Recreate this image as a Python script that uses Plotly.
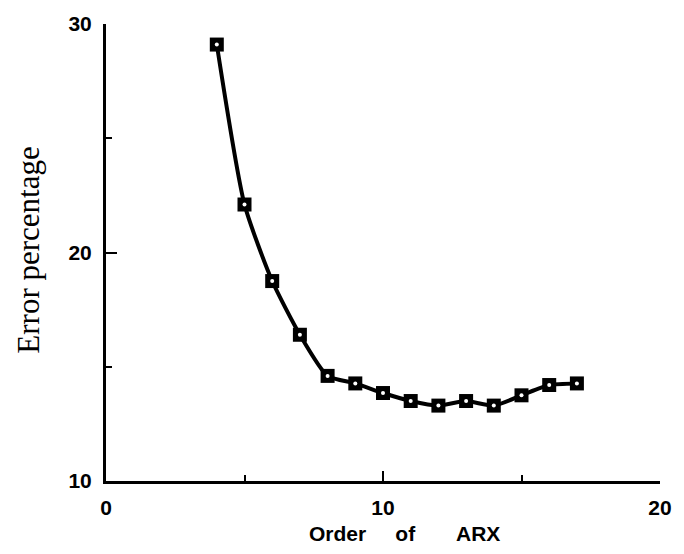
import plotly.graph_objects as go

# Model order of the ARX model and the resulting error percentage
arx_order = [4, 5, 6, 7, 8, 9, 10, 11, 12, 13, 14, 15, 16, 17]
error_pct = [29.1, 22.1, 18.75, 16.4, 14.6, 14.27, 13.85, 13.5, 13.3, 13.5, 13.3, 13.75, 14.2, 14.27]

x_ticks = [0, 10, 20]
y_ticks = [10, 20, 30]

fig = go.Figure()

# Smooth curve with black square markers
fig.add_trace(go.Scatter(
    x=arx_order, y=error_pct, mode="lines+markers",
    line=dict(color="black", width=4, shape="spline", smoothing=0.6),
    marker=dict(symbol="square", size=14, color="black", line=dict(width=0)),
    showlegend=False, hoverinfo="skip",
))
# White centre dot inside each square
fig.add_trace(go.Scatter(
    x=arx_order, y=error_pct, mode="markers",
    marker=dict(symbol="circle", size=4, color="white", line=dict(width=0)),
    showlegend=False, hoverinfo="skip",
))

tick_font = dict(family="Liberation Sans, Arial, sans-serif", size=21, color="black", weight="bold")

fig.update_xaxes(
    range=[0, 20], tickvals=x_ticks, ticktext=[str(v) for v in x_ticks],
    showline=True, linewidth=3, linecolor="black", mirror=False,
    ticks="inside", ticklen=10, tickwidth=2, tickcolor="black",
    minor=dict(dtick=5, ticks="inside", ticklen=6, tickwidth=2, tickcolor="black"),
    showgrid=False, zeroline=False, tickfont=tick_font, ticklabelstandoff=6,
)
fig.update_yaxes(
    range=[10, 30], tickvals=y_ticks, ticktext=[str(v) for v in y_ticks],
    showline=True, linewidth=3, linecolor="black", mirror=False,
    ticks="inside", ticklen=11, tickwidth=2, tickcolor="black",
    minor=dict(dtick=5, ticks="inside", ticklen=6, tickwidth=2, tickcolor="black"),
    showgrid=False, zeroline=False, tickfont=tick_font, ticklabelstandoff=7,
)

nb = "\u00a0"
fig.add_annotation(
    text="Order" + nb * 5 + "of" + nb * 7 + "ARX",
    xref="paper", yref="paper", x=0.5386, y=-0.115,
    xanchor="center", yanchor="middle", showarrow=False,
    font=dict(family="Liberation Sans, Arial, sans-serif", size=21, color="black", weight="bold"),
)
fig.add_annotation(
    text="Error percentage",
    xref="paper", yref="paper", x=-0.140, y=0.505,
    xanchor="center", yanchor="middle", showarrow=False, textangle=-90,
    font=dict(family="Liberation Serif, Times New Roman, serif", size=31, color="black"),
)

fig.update_layout(
    width=684, height=554,
    margin=dict(l=106, r=16, t=20, b=73),
    plot_bgcolor="white", paper_bgcolor="white",
)

fig.write_html("out.html")
